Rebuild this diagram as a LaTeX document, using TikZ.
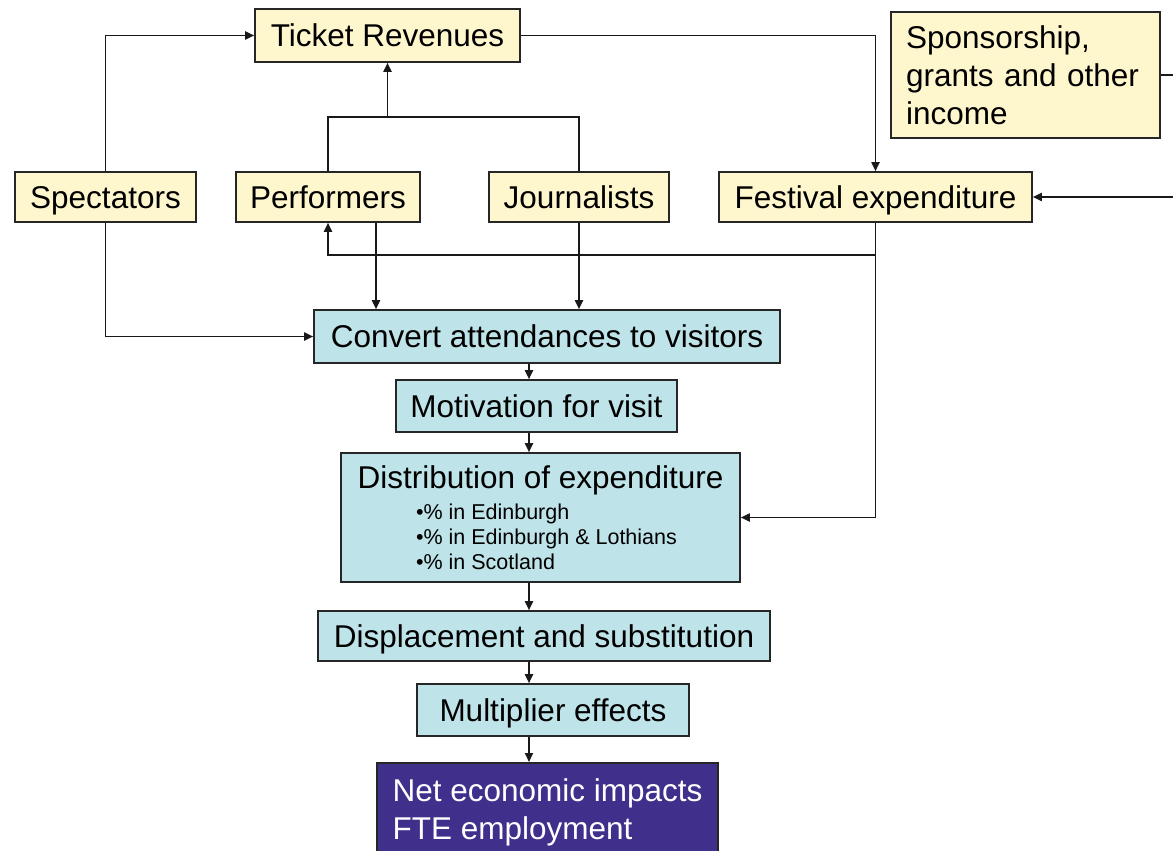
\documentclass[tikz,border=0pt]{standalone}
\usepackage{fontspec}
\setmainfont{Liberation Sans}
\usetikzlibrary{arrows.meta}
\definecolor{boxyellow}{HTML}{FEF6CC}
\definecolor{boxblue}{HTML}{BEE3E8}
\definecolor{boxpurple}{HTML}{40308C}
\tikzset{
  base/.style={draw=black!85, line width=1.6pt, inner sep=0pt,
    font=\fontsize{31.5}{38}\selectfont, text=black},
  one/.style={text height=22.6pt, text depth=0pt},
  ybox/.style={base, fill=boxyellow},
  bbox/.style={base, fill=boxblue},
  pbox/.style={base, fill=boxpurple, text=white},
  conn/.style={line width=1.8pt, draw=black!90},
  arr/.style={conn, -{Triangle[length=9pt,width=8pt]}},
}
\begin{document}
\begin{tikzpicture}[x=1pt,y=-1pt]
\path[use as bounding box, clip] (0,0) rectangle (1173,851);
\fill[white] (0,0) rectangle (1173,851);

% top row
\node[ybox, one, minimum width=265pt, minimum height=53pt] (ticket) at (387.5,35.5) {Ticket Revenues};
\node[ybox, minimum width=269pt, minimum height=126pt, text width=239pt, align=left] (spons) at (1025.5,75) {Sponsorship,\\grants and other\\income};
\node[ybox, one, minimum width=181pt, minimum height=50pt] (spec) at (105.5,197) {Spectators};
\node[ybox, one, minimum width=184pt, minimum height=50pt] (perf) at (328,197) {Performers};
\node[ybox, one, minimum width=180pt, minimum height=50pt] (journ) at (579,197) {Journalists};
\node[ybox, one, minimum width=313pt, minimum height=50pt] (fest) at (875.5,197) {Festival expenditure};

% chain
\node[bbox, one, minimum width=466pt, minimum height=53pt] (conv) at (547,336.5) {Convert attendances to visitors};
\node[bbox, one, minimum width=281pt, minimum height=52pt] (mot) at (536.5,406) {Motivation for visit};
\node[bbox, minimum width=399pt, minimum height=129pt, align=center] (dist) at (540.5,517.5)
  {Distribution of expenditure\\[-7.5pt]
   \hspace*{12pt}\parbox[t]{261pt}{\fontsize{21.5}{25}\selectfont
   •\% in Edinburgh\\
   •\% in Edinburgh \& Lothians\\
   •\% in Scotland}};
\node[bbox, one, minimum width=452pt, minimum height=50pt] (disp) at (544,636) {Displacement and substitution};
\node[bbox, one, minimum width=272pt, minimum height=52pt] (mult) at (553,710) {Multiplier effects};
\node[pbox, anchor=north, minimum width=341pt, align=left, inner xsep=14pt, inner ysep=16pt] (net) at (547.5,762) {Net economic impacts\\FTE employment};

% helper coordinates
\coordinate (ax) at (529,0);
\coordinate (pj) at (387.5,117);
\coordinate (fb) at (875.5,255);
\coordinate (so) at (1188,75);

% connectors
\draw[arr] (spec.north) |- (ticket.west);
\draw[conn] (perf.north) |- (pj) -| (journ.north);
\draw[arr] (pj) -- (ticket.south);
\draw[arr] (ticket.east) -| (fest.north);
\draw[conn] (spons.east) -- (so);
\draw[arr] (so) |- (fest.east);
\draw[conn] (fest.south) -- (fb);
\draw[arr] (fb) -| (perf.south);
\draw[arr] (fb) |- (dist.east);
\draw[arr] ([xshift=48pt]perf.south) -- ([xshift=48pt]perf.south |- conv.north);
\draw[arr] (journ.south) -- (journ.south |- conv.north);
\draw[arr] (spec.south) |- (conv.west);
\draw[arr] (conv.south -| ax) -- (mot.north -| ax);
\draw[arr] (mot.south -| ax) -- (dist.north -| ax);
\draw[arr] (dist.south -| ax) -- (disp.north -| ax);
\draw[arr] (disp.south -| ax) -- (mult.north -| ax);
\draw[arr] (mult.south -| ax) -- (net.north -| ax);
\end{tikzpicture}
\end{document}
